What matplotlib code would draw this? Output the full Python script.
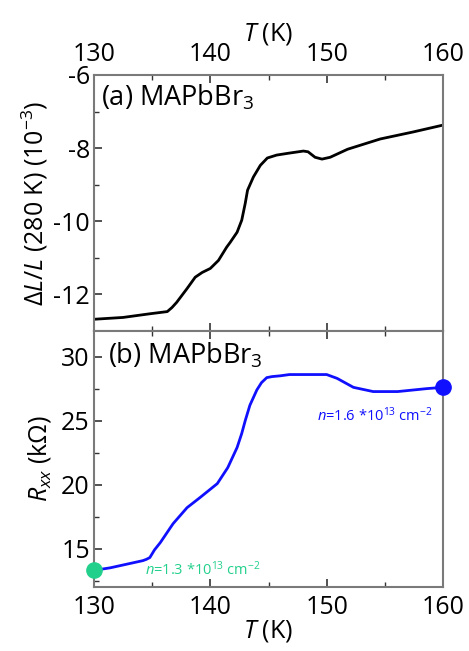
import numpy as np
import matplotlib.pyplot as plt
from matplotlib.ticker import MultipleLocator

plt.rcParams['font.family'] = ['Open Sans', 'DejaVu Sans']
plt.rcParams['mathtext.fontset'] = 'custom'
plt.rcParams['mathtext.it'] = 'Open Sans:italic'
plt.rcParams['mathtext.rm'] = 'Open Sans'
plt.rcParams['axes.unicode_minus'] = False

# thermal expansion, dL/L relative to 280 K (1e-3)
T_dl = [130.0, 132.5, 134.8, 136.3, 136.7, 137.1, 138.0, 138.7, 139.3, 140.0,
        140.7, 141.4, 141.7, 142.3, 142.7, 143.0, 143.2, 143.7, 144.3, 144.9,
        145.7, 146.7, 148.0, 148.4, 149.0, 149.6, 150.3, 151.8, 154.6, 157.4,
        160.0]
dl = [-12.68, -12.63, -12.53, -12.47, -12.36, -12.22, -11.84, -11.53, -11.40, -11.29,
      -11.07, -10.71, -10.58, -10.30, -9.97, -9.51, -9.15, -8.79, -8.47, -8.27,
      -8.19, -8.14, -8.08, -8.10, -8.25, -8.30, -8.25, -8.03, -7.75, -7.56,
      -7.37]

# sheet resistance (kOhm)
T_r = [130.0, 131.4, 134.2, 134.5, 134.8, 135.2, 135.7, 136.8, 138.0, 139.1,
       140.6, 141.5, 142.3, 142.7, 143.0, 143.4, 143.7, 144.0, 144.4, 144.85,
       145.3, 146.0, 146.8, 150.0, 150.9, 152.3, 154.0, 156.1, 158.6, 160.0]
rxx = [13.3, 13.5, 14.06, 14.16, 14.3, 14.9, 15.47, 16.95, 18.2, 18.98,
       20.08, 21.33, 22.9, 24.0, 25.0, 26.2, 26.8, 27.4, 27.97, 28.36,
       28.44, 28.5, 28.6, 28.6, 28.3, 27.6, 27.27, 27.27, 27.5, 27.6]

# carrier density markers
T_n = [130, 160]
R_n = [13.3, 27.6]
n_lbl = [r'$n$=1.3 *10$^{13}$ cm$^{-2}$', r'$n$=1.6 *10$^{13}$ cm$^{-2}$']
n_col = ['#22d08c', '#1010ff']

fig = plt.figure(figsize=(4.69, 6.51), dpi=100)
ax1 = fig.add_axes([0.2004, 0.4916, 0.7442, 0.3932])
ax2 = fig.add_axes([0.2004, 0.0983, 0.7442, 0.3932])

spine_c = '#7a7a7a'
for ax in (ax1, ax2):
    ax.set_xlim(130, 160)
    ax.xaxis.set_major_locator(MultipleLocator(10))
    ax.xaxis.set_minor_locator(MultipleLocator(5))
    for s in ax.spines.values():
        s.set_color(spine_c)
        s.set_linewidth(1.5)
    ax.tick_params(which='both', direction='in', top=True, bottom=True,
                   color='#333333', labelsize=18)
    ax.tick_params(axis='y', pad=3)
    ax.tick_params(axis='x', pad=6)
    ax.tick_params(which='major', length=6, width=1.2)
    ax.tick_params(which='minor', length=3.5, width=1.0)

ax1.plot(T_dl, dl, color='black', lw=2.0)
ax1.set_ylim(-13, -6)
ax1.yaxis.set_major_locator(MultipleLocator(2))
ax1.yaxis.set_minor_locator(MultipleLocator(1))
ax1.tick_params(labeltop=True, labelbottom=False)
ax1.xaxis.set_label_position('top')
ax1.set_xlabel(r'$T$ (K)', fontsize=18, labelpad=1)
ax1.set_ylabel(r'$\Delta L/L$ (280 K) (10$^{-3}$)', fontsize=18, labelpad=2)
ax1.text(0.02, 0.97, r'(a) MAPbBr$_3$', transform=ax1.transAxes,
         fontsize=19.5, va='top', ha='left')

ax2.plot(T_r, rxx, color='#1010ff', lw=2.0)
for t, r, c in zip(T_n, R_n, n_col):
    ax2.plot(t, r, 'o', color=c, ms=11, clip_on=False, zorder=5)
ax2.text(134.4, 13.36, n_lbl[0], color=n_col[0], fontsize=10.5,
         va='center', ha='left')
ax2.text(159.1, 25.4, n_lbl[1], color=n_col[1], fontsize=10.5,
         va='center', ha='right')
ax2.set_ylim(12, 32)
ax2.yaxis.set_major_locator(MultipleLocator(5))
ax2.yaxis.set_minor_locator(MultipleLocator(2.5))
ax2.set_xlabel(r'$T$ (K)', fontsize=18, labelpad=-2)
ax2.set_ylabel(r'$R_{xx}$ (k$\Omega$)', fontsize=18, labelpad=6)
ax2.text(0.04, 0.96, r'(b) MAPbBr$_3$', transform=ax2.transAxes,
         fontsize=19.5, va='top', ha='left')

fig.savefig('out.png', dpi=100)
